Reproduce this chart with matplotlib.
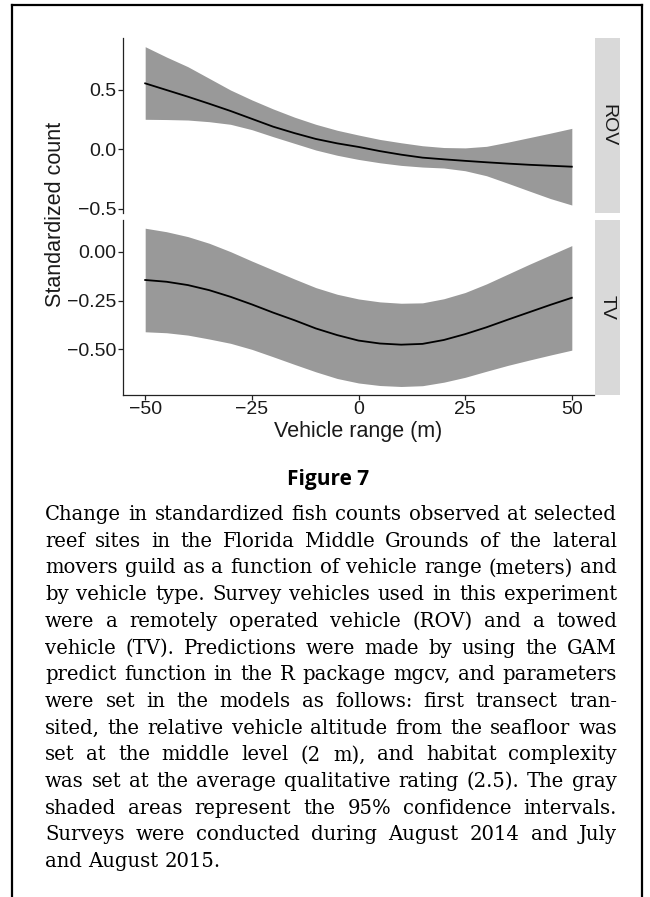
import matplotlib
matplotlib.use("Agg")
import matplotlib.pyplot as plt
from matplotlib.lines import Line2D

# ---------------- data ----------------
x_vals = [-50, -45, -40, -35, -30, -25, -20, -15, -10, -5, 0,
          5, 10, 15, 20, 25, 30, 35, 40, 45, 50]

rov_fit = [0.554, 0.498, 0.442, 0.383, 0.322, 0.256, 0.190, 0.136, 0.087, 0.050, 0.020,
           -0.015, -0.045, -0.070, -0.084, -0.097, -0.109, -0.120, -0.130, -0.138, -0.146]
rov_upper = [0.862, 0.775, 0.694, 0.596, 0.498, 0.415, 0.339, 0.270, 0.210, 0.160, 0.120,
             0.083, 0.055, 0.030, 0.015, 0.012, 0.025, 0.060, 0.098, 0.136, 0.176]
rov_lower = [0.252, 0.250, 0.246, 0.232, 0.210, 0.165, 0.106, 0.050, -0.006, -0.050, -0.085,
             -0.113, -0.135, -0.149, -0.157, -0.180, -0.222, -0.285, -0.350, -0.414, -0.468]

tv_fit = [-0.145, -0.154, -0.171, -0.197, -0.231, -0.270, -0.312, -0.351, -0.393, -0.427, -0.455,
          -0.470, -0.476, -0.472, -0.452, -0.422, -0.387, -0.348, -0.310, -0.272, -0.236]
tv_upper = [0.120, 0.102, 0.077, 0.043, 0.000, -0.048, -0.094, -0.140, -0.184, -0.218, -0.242,
            -0.257, -0.264, -0.262, -0.241, -0.209, -0.165, -0.115, -0.065, -0.017, 0.031]
tv_lower = [-0.410, -0.415, -0.427, -0.447, -0.469, -0.500, -0.538, -0.577, -0.615, -0.649, -0.672,
            -0.685, -0.690, -0.686, -0.668, -0.643, -0.612, -0.582, -0.555, -0.529, -0.504]

panel_names = ["ROV", "TV"]
x_ticks = [-50, -25, 0, 25, 50]
x_ticklabels = ["\u221250", "\u221225", "0", "25", "50"]
rov_yticks = [-0.5, 0.0, 0.5]
rov_yticklabels = ["\u22120.5", "0.0", "0.5"]
tv_yticks = [-0.50, -0.25, 0.00]
tv_yticklabels = ["\u22120.50", "\u22120.25", "0.00"]

x_label = "Vehicle range (m)"
y_label = "Standardized count"
fig_title = "Figure 7"
caption_lines = [
    "Change in standardized fish counts observed at selected",
    "reef sites in the Florida Middle Grounds of the lateral",
    "movers guild as a function of vehicle range (meters) and",
    "by vehicle type. Survey vehicles used in this experiment",
    "were a remotely operated vehicle (ROV) and a towed",
    "vehicle (TV). Predictions were made by using the GAM",
    "predict function in the R package mgcv, and parameters",
    "were set in the models as follows: first transect tran-",
    "sited, the relative vehicle altitude from the seafloor was",
    "set at the middle level (2 m), and habitat complexity",
    "was set at the average qualitative rating (2.5). The gray",
    "shaded areas represent the 95% confidence intervals.",
    "Surveys were conducted during August 2014 and July",
    "and August 2015.",
]

# ---------------- figure ----------------
W, H = 650, 897
fig = plt.figure(figsize=(W / 100, H / 100), dpi=100)
fig.patch.set_facecolor("white")

def fx(px):
    return px / W

def fy(py):
    return 1 - py / H

SANS = ["Liberation Sans", "DejaVu Sans"]
TXT = "#1a1a1a"

# border of the page (top, left, right)
for xs, ys in [((12, 642), (5, 5)), ((12, 12), (5, 897)), ((642, 642), (5, 897))]:
    fig.add_artist(Line2D([fx(xs[0]), fx(xs[1])], [fy(ys[0]), fy(ys[1])],
                          color="black", lw=1.6, transform=fig.transFigure))

ax_left, ax_right = 123, 594
panels = [
    dict(top=38, bottom=213, fit=rov_fit, up=rov_upper, lo=rov_lower,
         ylim=(-0.535, 0.935), yt=rov_yticks, ytl=rov_yticklabels, name=panel_names[0]),
    dict(top=220, bottom=394.5, fit=tv_fit, up=tv_upper, lo=tv_lower,
         ylim=(-0.731, 0.162), yt=tv_yticks, ytl=tv_yticklabels, name=panel_names[1]),
]

for i, p in enumerate(panels):
    ax = fig.add_axes([fx(ax_left), fy(p["bottom"]), fx(ax_right - ax_left),
                       (p["bottom"] - p["top"]) / H])
    ax.fill_between(x_vals, p["lo"], p["up"], color="#999999", lw=0)
    ax.plot(x_vals, p["fit"], color="black", lw=1.3)
    ax.set_xlim(-55.2, 55.2)
    ax.set_ylim(*p["ylim"])
    ax.set_yticks(p["yt"])
    ax.set_yticklabels(p["ytl"], fontsize=14, family=SANS, color=TXT)
    for s in ["top", "right"]:
        ax.spines[s].set_visible(False)
    ax.spines["left"].set_color("#222222")
    ax.spines["left"].set_linewidth(0.9)
    ax.spines["bottom"].set_color("#222222")
    ax.spines["bottom"].set_linewidth(0.9)
    ax.tick_params(axis="both", length=3.6, width=0.9, color="#222222", pad=1)
    if i == 0:
        ax.spines["bottom"].set_visible(False)
        ax.set_xticks([])
    else:
        ax.set_xticks(x_ticks)
        ax.set_xticklabels(x_ticklabels, fontsize=14, family=SANS, color=TXT)
    # facet strip
    sax = fig.add_axes([fx(595), fy(p["bottom"]), fx(620 - 595),
                        (p["bottom"] - p["top"]) / H])
    sax.set_facecolor("#d9d9d9")
    for s in sax.spines.values():
        s.set_visible(False)
    sax.set_xticks([])
    sax.set_yticks([])
    sax.text(0.5, 0.5, p["name"], rotation=-90, ha="center", va="center",
             fontsize=14, family=SANS, color=TXT, transform=sax.transAxes)

# axis titles
fig.text(fx((ax_left + ax_right) / 2), fy(431), x_label, ha="center", va="center",
         fontsize=15.5, family=SANS, color=TXT)
fig.text(fx(56), fy(214), y_label, ha="center", va="center", rotation=90,
         fontsize=15.5, family=SANS, color=TXT)

# figure title
fig.text(fx(328), fy(485), fig_title, ha="center", va="baseline",
         fontsize=15, family=["Open Sans", "DejaVu Sans"], weight="bold", color="black")

# justified caption
renderer = fig.canvas.get_renderer()
x0, x1 = 45, 617
base0, step = 520, 26.7
cap_family = ["DejaVu Serif"]

def measure(s, size):
    t = fig.text(0, 0, s, fontsize=size, family=cap_family)
    w = t.get_window_extent(renderer).width
    t.remove()
    return w

# choose a font size so that the widest line just fits with normal spacing
s0 = 13.0
widest = max(measure(l, s0) for l in caption_lines)
cap_size = s0 * (x1 - x0) / widest * 0.985
cap_font = dict(fontsize=cap_size, family=cap_family, color="black")
space_w = measure("a a", cap_size) - measure("aa", cap_size)

for li, line in enumerate(caption_lines):
    words = line.split(" ")
    yb = fy(base0 + li * step)
    texts = [fig.text(0, yb, w, ha="left", va="baseline", **cap_font) for w in words]
    widths = [t.get_window_extent(renderer).width for t in texts]
    if li == len(caption_lines) - 1 or len(words) == 1:
        gap = space_w
    else:
        gap = (x1 - x0 - sum(widths)) / (len(words) - 1)
    xc = x0
    for t, w in zip(texts, widths):
        t.set_x(fx(xc))
        xc += w + gap

fig.savefig("out.png", dpi=100, facecolor="white")
